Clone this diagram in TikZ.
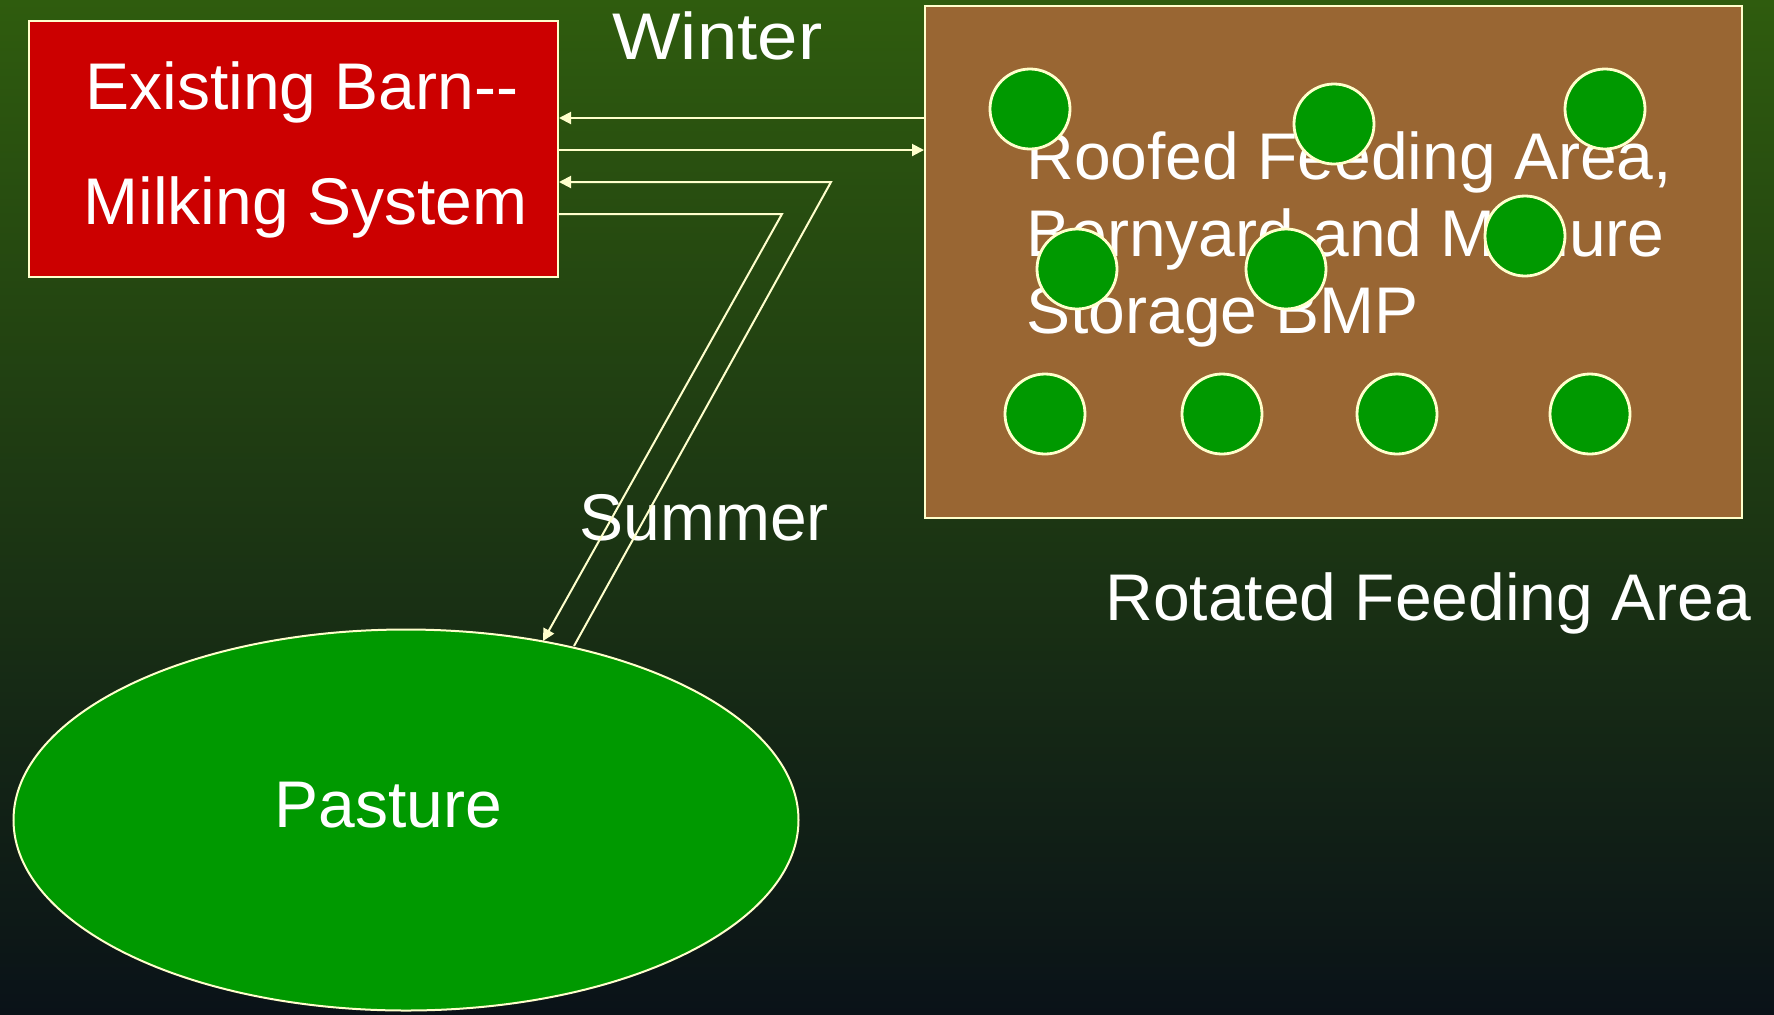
\documentclass[tikz,border=0pt]{standalone}
\usepackage{fontspec}
\setmainfont{Liberation Sans}
\usetikzlibrary{shapes.geometric,arrows.meta}
\definecolor{bgtop}{RGB}{47,92,14}
\definecolor{bgmid}{RGB}{31,60,20}
\definecolor{bgbot}{RGB}{10,18,24}
\definecolor{barnred}{RGB}{204,0,0}
\definecolor{soil}{RGB}{153,102,51}
\definecolor{grass}{RGB}{0,153,0}
\definecolor{edge}{RGB}{255,255,204}
\tikzset{
  lbl/.style={text=white,inner sep=0pt,anchor=base west,font=\fontsize{33}{40}\selectfont},
  area/.style={draw=edge,line width=1pt,inner sep=0pt},
  tree/.style={circle,draw=edge,line width=1.4pt,fill=grass,minimum size=40pt,inner sep=0pt},
  flow/.style={draw=edge,line width=1pt,-{Triangle[length=6pt,width=6pt]}},
}
\begin{document}
\begin{tikzpicture}[x=0.5pt,y=-0.5pt]
\useasboundingbox (0,0) rectangle (1774,1014);
\shade[top color=bgtop,middle color=bgmid,bottom color=bgbot] (0,0) rectangle (1774,1014);

% barn, feeding area and pasture
\node[area,rectangle,fill=barnred,minimum width=264.5pt,minimum height=128pt] (barn) at (293.5,149) {};
\node[area,rectangle,fill=soil,minimum width=408.5pt,minimum height=256pt] (feed) at (1333.5,262) {};
\node[area,ellipse,fill=grass,minimum width=392.5pt,minimum height=190.5pt] (pasture) at (406,820) {};

% labels
\node[lbl] (barn1) at (85,109) {Existing Barn-{}-};
\node[lbl] (barn2) at (83,224) {Milking System};
\node[lbl,xscale=1.1] (winter) at (612,59) {Winter};
\node[lbl] (summer) at (579,540) {Summer};
\node[lbl] (rotated) at (1105,620) {Rotated Feeding Area};
\node[lbl] (past) at (274,827) {Pasture};
\node[lbl] (roof1) at (1026,179) {Roofed Feeding Area,};
\node[lbl] (roof2) at (1026,256) {Bernyard and Manure};
\node[lbl] (roof3) at (1026,333) {Storage BMP};

% trees in the feeding area
\foreach \n/\x/\y in {t1/1030/109,t2/1334/124,t3/1605/109,t4/1077/269,t5/1286/269,
                     t6/1525/236,t7/1045/414,t8/1222/414,t9/1397/414,t10/1590/414}
  \node[tree] (\n) at (\x,\y) {};

% movement routes
\coordinate (pin) at (543,641);
\coordinate (pout) at (574,646);
\coordinate (bend1) at (782,214);
\coordinate (bend2) at (831,182);
\draw[flow] (feed.west |- 0,118) -- (barn.east |- 0,118);
\draw[flow] (barn.east |- 0,150) -- (feed.west |- 0,150);
\draw[flow] (pout) -- (bend2) -- (barn.east |- bend2);
\draw[flow] (barn.east |- bend1) -- (bend1) -- (pin);
\end{tikzpicture}
\end{document}
